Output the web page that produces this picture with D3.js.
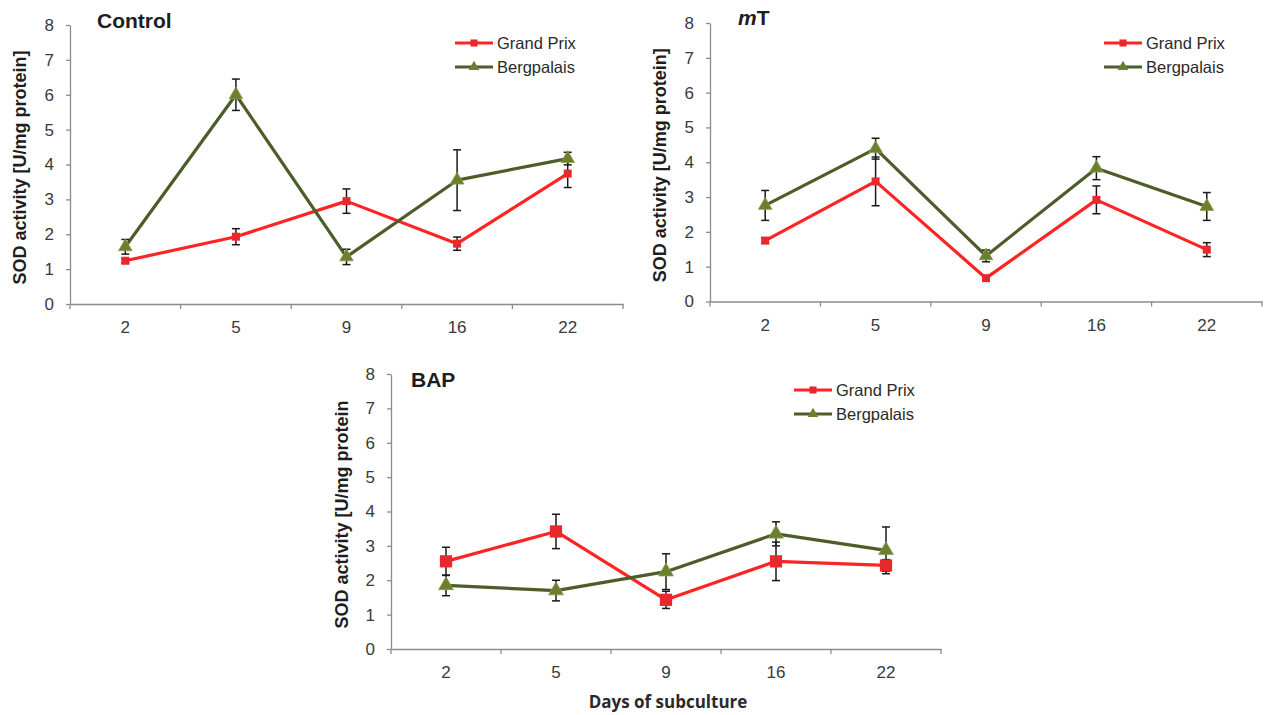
<!DOCTYPE html>
<html>
<head>
  <title>SOD activity</title>
  <script src="https://d3js.org/d3.v7.min.js"></script>
  <style>
    body { margin: 0; background: #fff; }
    text { font-family: "Liberation Sans", Arial, sans-serif; }
  </style>
</head>
<body>
<script type="text/javascript">

// ****** DATA ******

  var days = ["2", "5", "9", "16", "22"];
  var yTicks = [0, 1, 2, 3, 4, 5, 6, 7, 8];
  var seriesNames = ["Grand Prix", "Bergpalais"];

  // Control
  var controlGP    = [1.24, 1.93, 2.95, 1.73, 3.74],
      controlGPErr = [0.06, 0.23, 0.35, 0.19, 0.40],
      controlBP    = [1.64, 6.00, 1.35, 3.55, 4.17],
      controlBPErr = [0.21, 0.45, 0.22, 0.87, 0.18];
  // mT
  var mtGP    = [1.75, 3.45, 0.67, 2.92, 1.49],
      mtGPErr = [0.08, 0.70, 0.05, 0.40, 0.20],
      mtBP    = [2.76, 4.39, 1.31, 3.83, 2.73],
      mtBPErr = [0.43, 0.30, 0.17, 0.33, 0.40];
  // BAP
  var bapGP    = [2.55, 3.42, 1.43, 2.55, 2.43],
      bapGPErr = [0.41, 0.50, 0.25, 0.56, 0.17],
      bapBP    = [1.85, 1.70, 2.25, 3.35, 2.87],
      bapBPErr = [0.30, 0.30, 0.52, 0.35, 0.68];

// ****** STYLE ******

  var red = "#ff2424", redMarker = "#e8282c",
      green = "#4d5d2a", greenMarker = "#6b7f2e",
      axisColor = "#8c8c8c", textColor = "#3a3a3a";

  var svg = d3.select("body")
    .append("svg")
    .attr("width", 1265)
    .attr("height", 715);

  // one panel = one chart
  function drawPanel(p) {
    var x = d3.scaleBand().domain(days).range([p.left, p.right]);
    var y = d3.scaleLinear().domain([0, 8]).range([p.bottom, p.top]);
    var g = svg.append("g");

    // y axis
    var yAxis = g.append("g")
      .attr("transform", "translate(" + p.left + ",0)")
      .call(d3.axisLeft(y).tickValues(yTicks).tickSizeInner(4).tickSizeOuter(0).tickPadding(12));
    // x axis, labels in the middle of each band
    var xAxis = g.append("g")
      .attr("transform", "translate(0," + p.bottom + ")")
      .call(d3.axisBottom(x).tickSizeInner(0).tickSizeOuter(0).tickPadding(17));
    // ticks on the band edges
    var edges = days.map(function (d) { return x(d); }).concat([p.right]);
    xAxis.selectAll(".edge")
      .data(edges)
      .enter()
      .append("line")
      .attr("class", "edge")
      .attr("x1", function (d) { return d; })
      .attr("x2", function (d) { return d; })
      .attr("y1", 0)
      .attr("y2", 5)
      .attr("stroke", axisColor);

    [yAxis, xAxis].forEach(function (a) {
      a.selectAll("path, line").attr("stroke", axisColor).attr("stroke-width", 1.3);
      a.selectAll("text")
        .attr("fill", textColor)
        .style("font-size", "17px")
        .style("font-family", "'Liberation Sans', Arial, sans-serif");
    });

    // y axis title
    g.append("text")
      .attr("transform", "translate(" + p.labelX + "," + ((p.top + p.bottom) / 2 + 3) + ") rotate(-90)")
      .attr("text-anchor", "middle")
      .attr("fill", "#1e1e1e")
      .style("font-size", "18px")
      .style("font-weight", "bold")
      .text(p.yLabel);

    // panel title
    var t = g.append("text")
      .attr("x", p.titleX)
      .attr("y", p.titleY)
      .attr("fill", "#1e1e1e")
      .style("font-size", "21px")
      .style("font-weight", "bold");
    p.title.forEach(function (part) {
      t.append("tspan").style("font-style", part.italic ? "italic" : "normal").text(part.text);
    });

    var series = [
      { values: p.gp, err: p.gpErr, line: red, marker: redMarker, shape: "square" },
      { values: p.bp, err: p.bpErr, line: green, marker: greenMarker, shape: "triangle" }
    ];

    var line = d3.line()
      .x(function (d, i) { return x(days[i]) + x.bandwidth() / 2; })
      .y(function (d) { return y(d); });

    series.forEach(function (s) {
      g.append("path")
        .attr("d", line(s.values))
        .attr("fill", "none")
        .attr("stroke", s.line)
        .attr("stroke-width", 3.2)
        .attr("stroke-linejoin", "round");
    });

    // error bars
    series.forEach(function (s) {
      var eb = g.selectAll(null)
        .data(s.values)
        .enter()
        .append("g")
        .attr("transform", function (d, i) { return "translate(" + (x(days[i]) + x.bandwidth() / 2) + ",0)"; });
      eb.append("line")
        .attr("y1", function (d, i) { return y(d + s.err[i]); })
        .attr("y2", function (d, i) { return y(d - s.err[i]); });
      eb.append("line")
        .attr("x1", -4).attr("x2", 4)
        .attr("y1", function (d, i) { return y(d + s.err[i]); })
        .attr("y2", function (d, i) { return y(d + s.err[i]); });
      eb.append("line")
        .attr("x1", -4).attr("x2", 4)
        .attr("y1", function (d, i) { return y(d - s.err[i]); })
        .attr("y2", function (d, i) { return y(d - s.err[i]); });
      eb.selectAll("line").attr("stroke", "#1a1a1a").attr("stroke-width", 1.5);
    });

    // markers
    series.forEach(function (s) {
      var sym = s.shape === "square" ? d3.symbolSquare : d3.symbolTriangle;
      var size = s.shape === "square" ? p.squareSize : p.triSize;
      g.selectAll(null)
        .data(s.values)
        .enter()
        .append("path")
        .attr("d", d3.symbol().type(sym).size(size))
        .attr("transform", function (d, i) {
          return "translate(" + (x(days[i]) + x.bandwidth() / 2) + "," + y(d) + ")";
        })
        .attr("fill", s.marker)
        .attr("stroke", s.shape === "square" ? "none" : "#8a9a4a")
        .attr("stroke-width", 0.8);
    });

    // legend
    series.forEach(function (s, i) {
      var ly = p.legendY + i * 24;
      g.append("line")
        .attr("x1", p.legendX).attr("x2", p.legendX + 38)
        .attr("y1", ly).attr("y2", ly)
        .attr("stroke", s.line)
        .attr("stroke-width", 3.2);
      g.append("path")
        .attr("d", d3.symbol().type(s.shape === "square" ? d3.symbolSquare : d3.symbolTriangle).size(50))
        .attr("transform", "translate(" + (p.legendX + 19) + "," + ly + ")")
        .attr("fill", s.marker);
      g.append("text")
        .attr("x", p.legendX + 42)
        .attr("y", ly + 6)
        .attr("fill", "#2a2a2a")
        .style("font-size", "16.5px")
        .text(seriesNames[i]);
    });
  }

  drawPanel({
    title: [{ text: "Control" }], titleX: 97, titleY: 28,
    gp: controlGP, gpErr: controlGPErr, bp: controlBP, bpErr: controlBPErr,
    left: 70, right: 623, top: 25, bottom: 304,
    labelX: 26, yLabel: "SOD activity [U/mg protein]",
    legendX: 455, legendY: 43, squareSize: 64, triSize: 80
  });

  drawPanel({
    title: [{ text: "m", italic: true }, { text: "T" }], titleX: 738, titleY: 25,
    gp: mtGP, gpErr: mtGPErr, bp: mtBP, bpErr: mtBPErr,
    left: 710, right: 1262, top: 23, bottom: 301.5,
    labelX: 666, yLabel: "SOD activity [U/mg protein]",
    legendX: 1104, legendY: 43, squareSize: 64, triSize: 80
  });

  drawPanel({
    title: [{ text: "BAP" }], titleX: 411, titleY: 387,
    gp: bapGP, gpErr: bapGPErr, bp: bapBP, bpErr: bapBPErr,
    left: 391, right: 941, top: 374, bottom: 649,
    labelX: 348, yLabel: "SOD activity [U/mg protein",
    legendX: 794, legendY: 390, squareSize: 150, triSize: 95
  });

  // shared x axis title under the bottom chart
  svg.append("text")
    .attr("x", 668)
    .attr("y", 708)
    .attr("text-anchor", "middle")
    .attr("fill", "#2a2a2a")
    .style("font-family", "'Open Sans', sans-serif")
    .style("font-size", "17px")
    .style("font-weight", "bold")
    .text("Days of subculture");
</script>
</body>
</html>
